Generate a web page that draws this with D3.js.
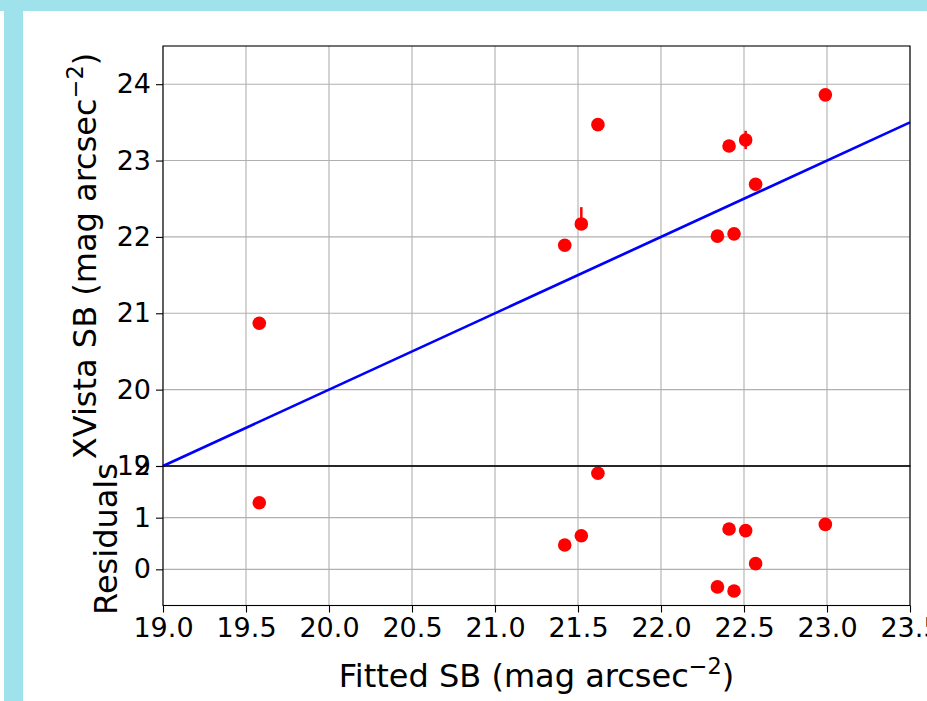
<!DOCTYPE html>
<html>
<head>
<meta charset="utf-8">
<script src="https://cdn.jsdelivr.net/npm/d3@7"></script>
<style>
  body { margin: 0; background: #fff; }
  svg { display: block; }
  text { font-family: "DejaVu Sans", sans-serif; fill: #000; }
</style>
</head>
<body>
<div id="chart"></div>
<script>
// data
const fittedSB  = [19.58, 21.42, 21.52, 21.62, 22.34, 22.44, 22.41, 22.51, 22.57, 22.99];
const xvistaSB  = [20.87, 21.89, 22.17, 23.47, 22.01, 22.04, 23.19, 23.27, 22.69, 23.86];
const errLow    = [0, 0, 0.04, 0, 0, 0, 0, 0.12, 0, 0];
const errHigh   = [0, 0, 0.22, 0, 0, 0, 0, 0.12, 0, 0];
const residuals = [1.29, 0.47, 0.65, 1.86, -0.34, -0.42, 0.78, 0.75, 0.11, 0.87];
const lineX = [19.0, 23.5];
const lineY = [19.0, 23.5];
const xTicks = [19.0, 19.5, 20.0, 20.5, 21.0, 21.5, 22.0, 22.5, 23.0, 23.5];
const yTicksTop = [19, 20, 21, 22, 23, 24];
const yTicksBottom = [0, 1, 2];

const W = 927, H = 701;
const pLeft = 163, pRight = 910, pTop = 46, pMid = 466, pBottom = 605.5;
const tickFont = 27, labelFont = 32;

const svg = d3.select("#chart").append("svg").attr("width", W).attr("height", H);

// frame
svg.append("rect").attr("x", 0).attr("y", 0).attr("width", W).attr("height", 11).attr("fill", "#a0e2ec");
svg.append("rect").attr("x", 4).attr("y", 11).attr("width", 19).attr("height", H - 11).attr("fill", "#a0e2ec");

const x = d3.scaleLinear().domain([19, 23.5]).range([pLeft, pRight]);
const yTop = d3.scaleLinear().domain([19, 24.5]).range([pMid, pTop]);
const yBot = d3.scaleLinear().domain([-0.7, 2.0]).range([pBottom, pMid]);

function panel(y, yTicks, y0, y1) {
  const g = svg.append("g");
  // grid
  g.append("g").selectAll("line").data(xTicks).join("line")
    .attr("x1", d => x(d)).attr("x2", d => x(d))
    .attr("y1", y0).attr("y2", y1)
    .attr("stroke", "#b0b0b0").attr("stroke-width", 1.1);
  g.append("g").selectAll("line").data(yTicks).join("line")
    .attr("x1", pLeft).attr("x2", pRight)
    .attr("y1", d => y(d)).attr("y2", d => y(d))
    .attr("stroke", "#b0b0b0").attr("stroke-width", 1.1);
  return g;
}

const gTop = panel(yTop, yTicksTop, pTop, pMid);
const gBot = panel(yBot, yTicksBottom, pMid, pBottom);

// one-to-one line
gTop.append("path")
  .datum(lineX.map((d, i) => [d, lineY[i]]))
  .attr("fill", "none").attr("stroke", "#0000ff").attr("stroke-width", 2.7)
  .attr("d", d3.line().x(d => x(d[0])).y(d => yTop(d[1])));

// error bars
gTop.append("g").selectAll("line").data(fittedSB).join("line")
  .attr("x1", d => x(d)).attr("x2", d => x(d))
  .attr("y1", (d, i) => yTop(xvistaSB[i] - errLow[i]))
  .attr("y2", (d, i) => yTop(xvistaSB[i] + errHigh[i]))
  .attr("stroke", "#ff0000").attr("stroke-width", 2.5);

gTop.append("g").selectAll("circle").data(fittedSB).join("circle")
  .attr("cx", d => x(d)).attr("cy", (d, i) => yTop(xvistaSB[i]))
  .attr("r", 6.8).attr("fill", "#ff0000");

gBot.append("g").selectAll("circle").data(fittedSB).join("circle")
  .attr("cx", d => x(d)).attr("cy", (d, i) => yBot(residuals[i]))
  .attr("r", 6.8).attr("fill", "#ff0000");

// axes
function styleAxis(sel) {
  sel.selectAll(".domain").remove();
  sel.selectAll(".tick line").attr("stroke", "#000").attr("stroke-width", 1.1);
  sel.selectAll(".tick text").attr("font-size", tickFont).attr("font-family", "DejaVu Sans");
}

svg.append("g").attr("transform", `translate(${pLeft},0)`)
  .call(d3.axisLeft(yTop).tickValues(yTicksTop).tickFormat(d3.format("d")).tickSize(7).tickPadding(5))
  .call(styleAxis);
svg.append("g").attr("transform", `translate(${pLeft},0)`)
  .call(d3.axisLeft(yBot).tickValues(yTicksBottom).tickFormat(d3.format("d")).tickSize(7).tickPadding(5))
  .call(styleAxis);
svg.append("g").attr("transform", `translate(0,${pBottom})`)
  .call(d3.axisBottom(x).tickValues(xTicks).tickFormat(d3.format(".1f")).tickSize(7).tickPadding(5))
  .call(styleAxis);

// spines
[[pTop, pMid], [pMid, pBottom]].forEach(([a, b]) => {
  svg.append("rect").attr("x", pLeft).attr("y", a).attr("width", pRight - pLeft).attr("height", b - a)
    .attr("fill", "none").attr("stroke", "#000").attr("stroke-width", 1.1);
});

// labels
function unitLabel(t, prefix) {
  t.append("tspan").text(prefix + " (mag arcsec");
  t.append("tspan").attr("font-size", labelFont * 0.7).attr("dy", -labelFont * 0.42).text("\u22122");
  t.append("tspan").attr("dy", labelFont * 0.42).text(")");
}

svg.append("text")
  .attr("x", (pLeft + pRight) / 2).attr("y", 687)
  .attr("text-anchor", "middle").attr("font-size", labelFont)
  .call(t => unitLabel(t, "Fitted SB"));

svg.append("text")
  .attr("transform", `translate(96,${(pTop + pMid) / 2}) rotate(-90)`)
  .attr("text-anchor", "middle").attr("font-size", labelFont)
  .call(t => unitLabel(t, "XVista SB"));

svg.append("text")
  .attr("transform", `translate(117,539) rotate(-90)`)
  .attr("text-anchor", "middle").attr("font-size", labelFont)
  .text("Residuals");
</script>
</body>
</html>
